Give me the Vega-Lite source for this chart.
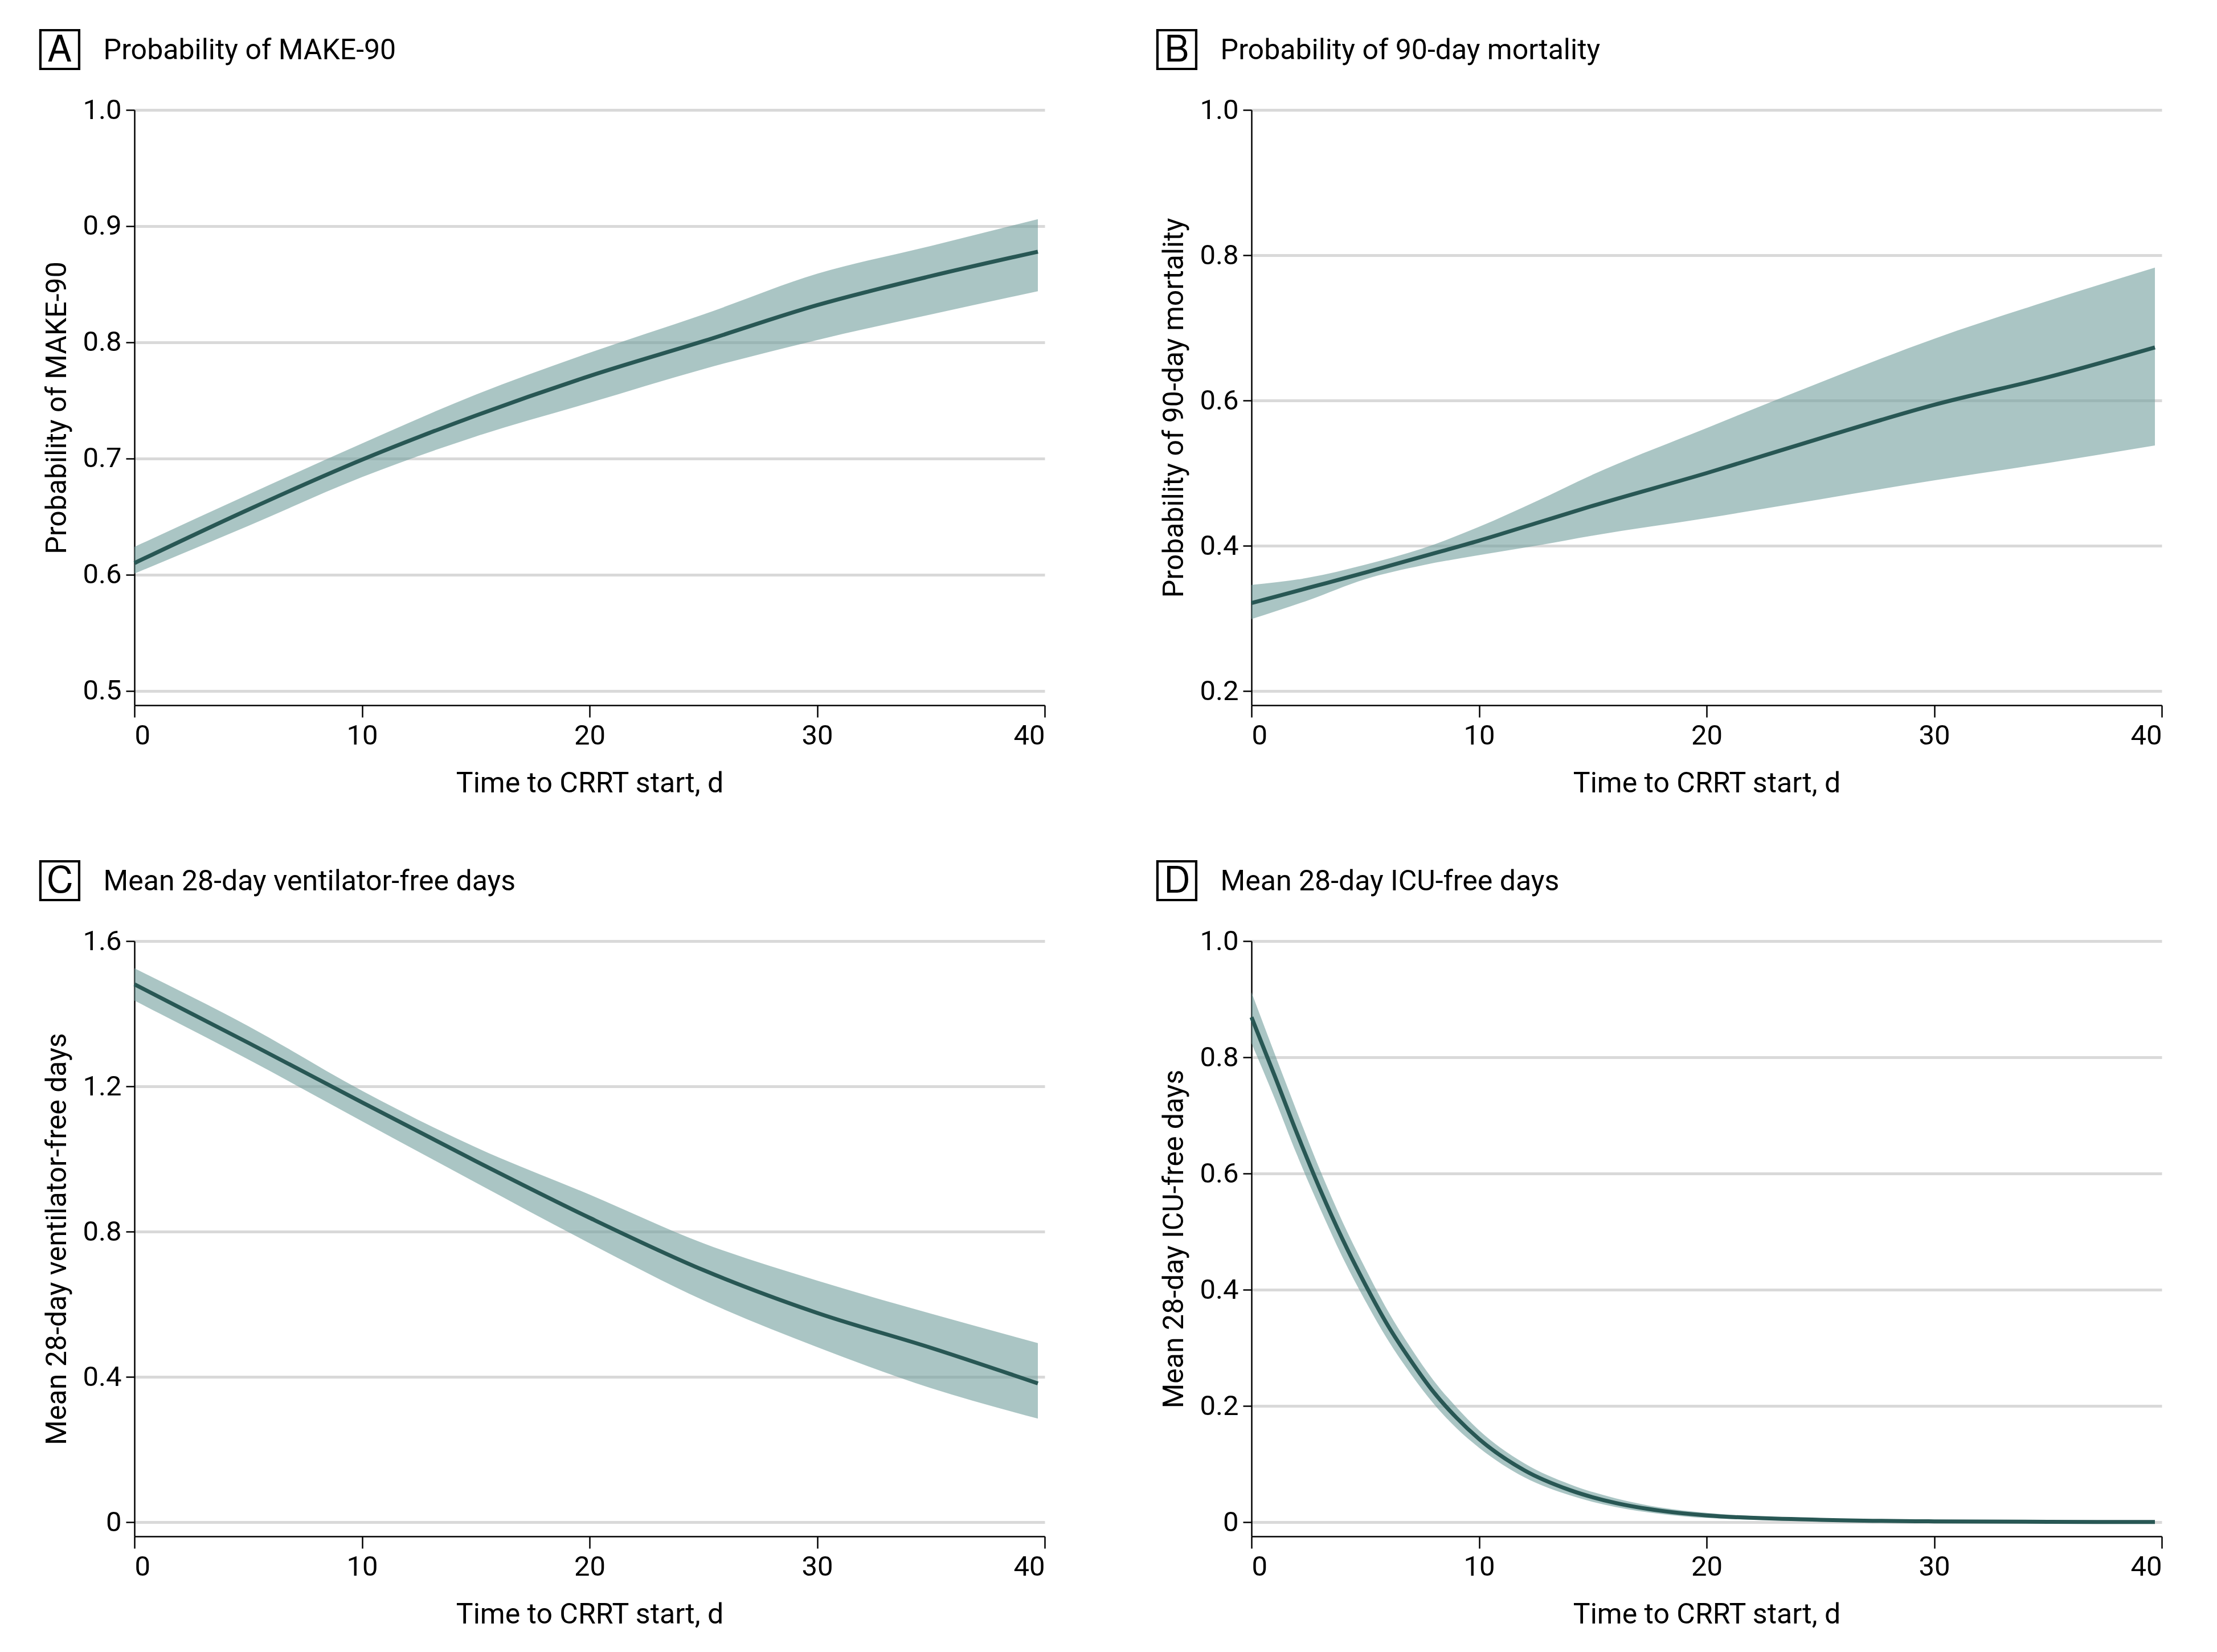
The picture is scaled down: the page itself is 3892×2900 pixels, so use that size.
{
  "$schema": "https://vega.github.io/schema/vega-lite/v6.json",
  "background": "white",
  "padding": {"left": 70, "top": 57, "right": 20, "bottom": 20},
  "datasets": {
    "A": [
      {"t": 0, "est": 0.610, "lo": 0.601, "hi": 0.624},
      {"t": 5, "est": 0.656, "lo": 0.642, "hi": 0.669},
      {"t": 10, "est": 0.699, "lo": 0.684, "hi": 0.713},
      {"t": 15, "est": 0.737, "lo": 0.719, "hi": 0.755},
      {"t": 20, "est": 0.771, "lo": 0.748, "hi": 0.791},
      {"t": 25, "est": 0.801, "lo": 0.777, "hi": 0.824},
      {"t": 30, "est": 0.832, "lo": 0.802, "hi": 0.859},
      {"t": 35, "est": 0.857, "lo": 0.824, "hi": 0.883},
      {"t": 39.7, "est": 0.878, "lo": 0.844, "hi": 0.906}
    ],
    "B": [
      {"t": 0, "est": 0.321, "lo": 0.299, "hi": 0.346},
      {"t": 2.5, "est": 0.342, "lo": 0.325, "hi": 0.356},
      {"t": 5, "est": 0.363, "lo": 0.354, "hi": 0.374},
      {"t": 7.5, "est": 0.385, "lo": 0.373, "hi": 0.396},
      {"t": 10, "est": 0.407, "lo": 0.387, "hi": 0.426},
      {"t": 12.5, "est": 0.431, "lo": 0.400, "hi": 0.461},
      {"t": 15, "est": 0.455, "lo": 0.414, "hi": 0.498},
      {"t": 20, "est": 0.500, "lo": 0.438, "hi": 0.562},
      {"t": 25, "est": 0.548, "lo": 0.464, "hi": 0.625},
      {"t": 30, "est": 0.594, "lo": 0.490, "hi": 0.685},
      {"t": 35, "est": 0.632, "lo": 0.514, "hi": 0.737},
      {"t": 39.7, "est": 0.673, "lo": 0.538, "hi": 0.783}
    ],
    "C": [
      {"t": 0, "est": 1.481, "lo": 1.436, "hi": 1.525},
      {"t": 5, "est": 1.320, "lo": 1.274, "hi": 1.366},
      {"t": 10, "est": 1.156, "lo": 1.104, "hi": 1.188},
      {"t": 15, "est": 0.994, "lo": 0.935, "hi": 1.032},
      {"t": 20, "est": 0.838, "lo": 0.768, "hi": 0.902},
      {"t": 25, "est": 0.694, "lo": 0.611, "hi": 0.768},
      {"t": 30, "est": 0.576, "lo": 0.482, "hi": 0.665},
      {"t": 35, "est": 0.480, "lo": 0.369, "hi": 0.574},
      {"t": 39.7, "est": 0.382, "lo": 0.285, "hi": 0.493}
    ],
    "D": [
      {"t": 0, "est": 0.869, "lo": 0.824, "hi": 0.912},
      {"t": 1, "est": 0.770, "lo": 0.731, "hi": 0.808},
      {"t": 2, "est": 0.669, "lo": 0.632, "hi": 0.706},
      {"t": 3, "est": 0.574, "lo": 0.541, "hi": 0.607},
      {"t": 4, "est": 0.487, "lo": 0.456, "hi": 0.517},
      {"t": 5, "est": 0.409, "lo": 0.381, "hi": 0.437},
      {"t": 6, "est": 0.338, "lo": 0.313, "hi": 0.363},
      {"t": 7, "est": 0.278, "lo": 0.255, "hi": 0.300},
      {"t": 8, "est": 0.224, "lo": 0.204, "hi": 0.244},
      {"t": 9, "est": 0.180, "lo": 0.162, "hi": 0.198},
      {"t": 10, "est": 0.143, "lo": 0.128, "hi": 0.158},
      {"t": 12, "est": 0.089, "lo": 0.077, "hi": 0.101},
      {"t": 14, "est": 0.055, "lo": 0.046, "hi": 0.065},
      {"t": 16, "est": 0.033, "lo": 0.026, "hi": 0.041},
      {"t": 18, "est": 0.0195, "lo": 0.014, "hi": 0.025},
      {"t": 20, "est": 0.0115, "lo": 0.007, "hi": 0.016},
      {"t": 25, "est": 0.004, "lo": 0.002, "hi": 0.006},
      {"t": 30, "est": 0.0013, "lo": 0.0005, "hi": 0.002},
      {"t": 35, "est": 0.0005, "lo": 0.0001, "hi": 0.001},
      {"t": 39.7, "est": 0.0002, "lo": 0.0, "hi": 0.0005}
    ]
  },
  "columns": 2,
  "spacing": {"row": 414, "column": 363},
  "bounds": "flush",
  "concat": [
    {
      "width": 1598, "height": 1045,
      "title": {"text": "🄰", "subtitle": "\u200b\u00a0\u00a0\u00a0\u00a0\u00a0\u00a0\u00a0\u00a0\u00a0Probability of MAKE-90"},
      "data": {"name": "A"},
      "encoding": {
        "x": {"field": "t", "type": "quantitative", "scale": {"domain": [0, 40], "nice": false}, "axis": {"values": [0, 10, 20, 30, 40], "title": "Time to CRRT start, d"}}
      },
      "layer": [
        {"mark": {"type": "area", "color": "#719e9d", "opacity": 0.6, "interpolate": "monotone"},
         "encoding": {"y": {"field": "lo", "type": "quantitative", "scale": {"domain": [0.4877, 1.0], "nice": false, "zero": false}, "axis": {"values": [0.5, 0.6, 0.7, 0.8, 0.9, 1.0], "format": ".1f", "title": "Probability of MAKE-90"}}, "y2": {"field": "hi"}}},
        {"mark": {"type": "line", "color": "#285754", "strokeWidth": 7, "interpolate": "monotone"},
         "encoding": {"y": {"field": "est", "type": "quantitative"}}}
      ]
    },
    {
      "width": 1598, "height": 1045,
      "title": {"text": "🄱", "subtitle": "\u200b\u00a0\u00a0\u00a0\u00a0\u00a0\u00a0\u00a0\u00a0\u00a0Probability of 90-day mortality"},
      "data": {"name": "B"},
      "encoding": {
        "x": {"field": "t", "type": "quantitative", "scale": {"domain": [0, 40], "nice": false}, "axis": {"values": [0, 10, 20, 30, 40], "title": "Time to CRRT start, d"}}
      },
      "layer": [
        {"mark": {"type": "area", "color": "#719e9d", "opacity": 0.6, "interpolate": "monotone"},
         "encoding": {"y": {"field": "lo", "type": "quantitative", "scale": {"domain": [0.1804, 1.0], "nice": false, "zero": false}, "axis": {"values": [0.2, 0.4, 0.6, 0.8, 1.0], "format": ".1f", "title": "Probability of 90-day mortality"}}, "y2": {"field": "hi"}}},
        {"mark": {"type": "line", "color": "#285754", "strokeWidth": 7, "interpolate": "monotone"},
         "encoding": {"y": {"field": "est", "type": "quantitative"}}}
      ]
    },
    {
      "width": 1598, "height": 1045,
      "title": {"text": "🄲", "subtitle": "\u200b\u00a0\u00a0\u00a0\u00a0\u00a0\u00a0\u00a0\u00a0\u00a0Mean 28-day ventilator-free days"},
      "data": {"name": "C"},
      "encoding": {
        "x": {"field": "t", "type": "quantitative", "scale": {"domain": [0, 40], "nice": false}, "axis": {"values": [0, 10, 20, 30, 40], "title": "Time to CRRT start, d"}}
      },
      "layer": [
        {"mark": {"type": "area", "color": "#719e9d", "opacity": 0.6, "interpolate": "monotone"},
         "encoding": {"y": {"field": "lo", "type": "quantitative", "scale": {"domain": [-0.0392, 1.6], "nice": false, "zero": false}, "axis": {"values": [0, 0.4, 0.8, 1.2, 1.6], "labelExpr": "datum.value === 0 ? '0' : format(datum.value, '.1f')", "title": "Mean 28-day ventilator-free days"}}, "y2": {"field": "hi"}}},
        {"mark": {"type": "line", "color": "#285754", "strokeWidth": 7, "interpolate": "monotone"},
         "encoding": {"y": {"field": "est", "type": "quantitative"}}}
      ]
    },
    {
      "width": 1598, "height": 1045,
      "title": {"text": "🄳", "subtitle": "\u200b\u00a0\u00a0\u00a0\u00a0\u00a0\u00a0\u00a0\u00a0\u00a0Mean 28-day ICU-free days"},
      "data": {"name": "D"},
      "encoding": {
        "x": {"field": "t", "type": "quantitative", "scale": {"domain": [0, 40], "nice": false}, "axis": {"values": [0, 10, 20, 30, 40], "title": "Time to CRRT start, d"}}
      },
      "layer": [
        {"mark": {"type": "area", "color": "#719e9d", "opacity": 0.6, "interpolate": "monotone"},
         "encoding": {"y": {"field": "lo", "type": "quantitative", "scale": {"domain": [-0.0245, 1.0], "nice": false, "zero": false}, "axis": {"values": [0, 0.2, 0.4, 0.6, 0.8, 1.0], "labelExpr": "datum.value === 0 ? '0' : format(datum.value, '.1f')", "title": "Mean 28-day ICU-free days"}}, "y2": {"field": "hi"}}},
        {"mark": {"type": "line", "color": "#285754", "strokeWidth": 7, "interpolate": "monotone"},
         "encoding": {"y": {"field": "est", "type": "quantitative"}}}
      ]
    }
  ],
  "config": {
    "font": "Roboto",
    "view": {"stroke": null},
    "title": {"anchor": "start", "frame": "group", "dx": -166, "font": "DejaVu Sans", "fontSize": 64, "fontWeight": "normal", "color": "black", "subtitleFont": "Roboto", "subtitleFontSize": 50, "subtitleColor": "black", "subtitlePadding": -57, "offset": 48},
    "axis": {
      "labelFontSize": 49, "titleFontSize": 50, "titleFontWeight": "normal",
      "labelColor": "black", "titleColor": "black",
      "domainColor": "black", "domainWidth": 2.5,
      "tickColor": "black", "tickWidth": 2.5,
      "gridColor": "#d9d9d9", "gridWidth": 5
    },
    "axisX": {"grid": false, "tickSize": 21, "labelPadding": 8, "titlePadding": 34},
    "axisY": {"tickSize": 15, "labelPadding": 8, "titlePadding": 20}
  }
}
